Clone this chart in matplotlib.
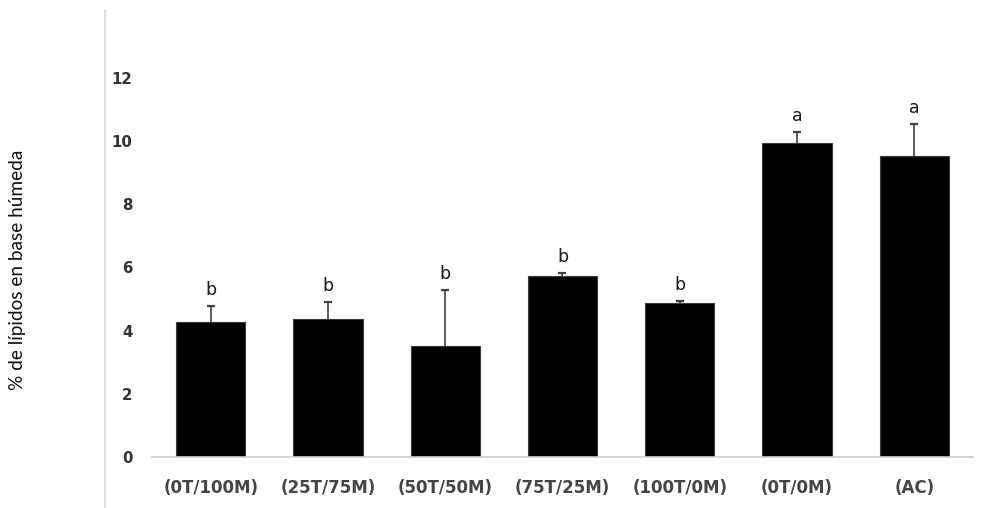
import matplotlib
matplotlib.use("Agg")
import matplotlib.pyplot as plt
from matplotlib.lines import Line2D
import numpy as np

# Lipid content (% wet basis) per treatment, with standard deviation and group letters
categories = ["(0T/100M)", "(25T/75M)", "(50T/50M)", "(75T/25M)", "(100T/0M)", "(0T/0M)", "(AC)"]
means = [4.28, 4.37, 3.51, 5.73, 4.86, 9.95, 9.52]
errors = [0.49, 0.53, 1.77, 0.08, 0.09, 0.34, 1.02]
letters = ["b", "b", "b", "b", "b", "a", "a"]
yticks = [0, 2, 4, 6, 8, 10, 12]

W, H = 1004, 508
fig = plt.figure(figsize=(W / 100, H / 100), dpi=100)
ax = fig.add_axes([152 / W, (H - 457) / H, (973 - 152) / W, (457 - 14.6) / H])

x = np.arange(len(categories))
ax.bar(x, means, width=0.59, color="black", edgecolor="#3a3a3a", linewidth=0.8, zorder=2)

# upper-only error bars: hide the cap at the lower end
eb = ax.errorbar(x, means, yerr=[np.zeros(len(errors)), errors], fmt="none",
                 ecolor="#404040", elinewidth=1.2, capsize=3.2, capthick=1.6, zorder=3)
caplines = eb.lines[1]
caplines[0].set_visible(False)

for xi, m, e, lab in zip(x, means, errors, letters):
    ax.annotate(lab, (xi, m + e), xytext=(0, 5), textcoords="offset points",
                ha="center", va="bottom", fontsize=12.5, color="#1a1a1a",
                fontfamily="DejaVu Sans")

ax.set_xlim(-0.5, len(categories) - 0.5)
ax.set_ylim(0, 14)
ax.set_yticks(yticks)
ax.set_yticklabels([str(t) for t in yticks], fontsize=10.8, fontweight="bold",
                   color="#333333", fontfamily="DejaVu Sans")
ax.set_xticks(x)
ax.set_xticklabels(categories, fontsize=12, fontweight="bold", color="#454545",
                   fontfamily="DejaVu Sans")
ax.tick_params(axis="y", length=0, pad=14)
ax.tick_params(axis="x", length=0, pad=16)

for side in ("top", "right", "left"):
    ax.spines[side].set_visible(False)
ax.spines["bottom"].set_color("#d0d0d0")
ax.spines["bottom"].set_linewidth(1.2)

# thin vertical rule at the left of the plot area
fig.add_artist(Line2D([105.5 / W, 105.5 / W], [0, (H - 10) / H],
                      color="#d9d9d9", linewidth=1.2))

fig.text(18 / W, (H - 270) / H, "% de lípidos en base húmeda", rotation=90,
         ha="center", va="center", fontsize=13.7, color="#111111",
         fontfamily="Lato")

fig.savefig("out.png", dpi=100, facecolor="white")
